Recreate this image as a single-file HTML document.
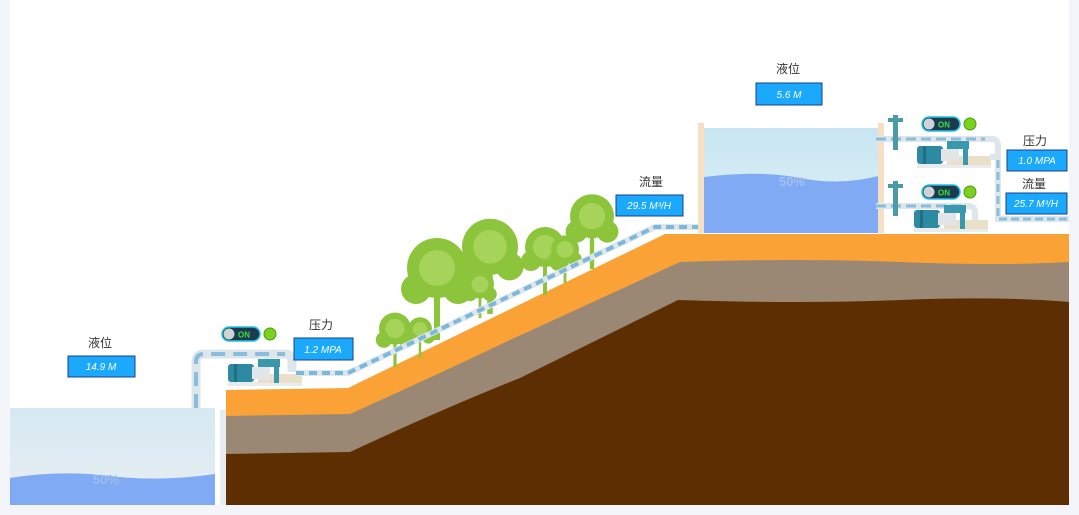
<!DOCTYPE html>
<html><head><meta charset="utf-8"><style>
body{margin:0;width:1079px;height:515px;background:#f4f5fa;overflow:hidden;font-family:"Liberation Sans","Noto Sans CJK SC",sans-serif}
svg{position:absolute;left:0;top:0}
</style></head><body>
<svg width="1079" height="515" viewBox="0 0 1079 515">
<defs>
<linearGradient id="tk" x1="0" y1="0" x2="0" y2="1"><stop offset="0" stop-color="#d5e9f2"/><stop offset="1" stop-color="#e8eef2"/></linearGradient>
<linearGradient id="tk2" x1="0" y1="0" x2="0" y2="1"><stop offset="0" stop-color="#c8e6f2"/><stop offset="1" stop-color="#dfeff6"/></linearGradient>
<g id="tree"><rect x="-2" y="0" width="4" height="40" fill="#8cc43c"/><circle cx="0" cy="-8" r="20" fill="#8cc43c"/><circle cx="-14" cy="6" r="10" fill="#8cc43c"/><circle cx="14" cy="6" r="10" fill="#8cc43c"/><circle cx="0" cy="-8" r="12" fill="#a6d35a"/></g>
<g id="pump"><rect x="0" y="16" width="74" height="4" fill="#e8ecef"/><rect x="30" y="8" width="44" height="9" fill="#eadfc8"/><rect x="0" y="-2" width="26" height="18" rx="3" fill="#2e8aa3"/><rect x="6" y="-2" width="3" height="18" fill="#1f6f85"/><rect x="24" y="1" width="18" height="12" fill="#e2e6e8"/><rect x="30" y="-7" width="22" height="8" fill="#3a98ad"/><rect x="46" y="-5" width="5" height="22" fill="#3a98ad"/></g>
<g id="sw"><rect x="0" y="0" width="38" height="14" rx="7" fill="#1c3b4f" stroke="#22c4e6" stroke-width="1.5"/><circle cx="7" cy="7" r="5.5" fill="#cfd3d6"/><text x="16" y="10.5" font-size="8" fill="#3de03d" font-weight="bold">ON</text><circle cx="48" cy="7" r="6" fill="#7bd11e" stroke="#4a9a10"/></g>
</defs>
<rect x="10" y="0" width="1059" height="505" fill="#fff"/>
<rect x="10" y="408" width="205" height="97" fill="url(#tk)"/>
<path d="M10 478 Q60 470 110 476 T215 474 V505 H10Z" fill="#80aaf3"/>
<text x="106" y="484" font-size="13" font-weight="bold" fill="#9dbcf0" text-anchor="middle">50%</text>
<path d="M226 390 L348 388 L665 234 L1069 234 V505 H226Z" fill="#fba236"/>
<path d="M226 416 L350 414 Q430 378 510 340 L680 262 Q800 258 900 262 T1069 262 V505 H226Z" fill="#9a8874"/>
<path d="M226 454 L350 452 Q440 410 520 378 L678 300 Q800 304 900 300 T1069 302 V505 H226Z" fill="#5e2e03"/>
<rect x="220" y="410" width="6" height="95" fill="#e6ecef"/>
<use href="#tree" transform="translate(395,335) scale(0.8)"/>
<use href="#tree" transform="translate(420,334) scale(0.6)"/>
<use href="#tree" transform="translate(437,280) scale(1.5)"/>
<use href="#tree" transform="translate(490,258) scale(1.4)"/>
<use href="#tree" transform="translate(480,290) scale(0.7)"/>
<use href="#tree" transform="translate(545,255) scale(1)"/>
<use href="#tree" transform="translate(565,255) scale(0.7)"/>
<use href="#tree" transform="translate(592,225) scale(1.1)"/>
<path d="M196 408 V362 Q196 354 204 354 H285 Q292 354 292 362 V372" fill="none" stroke="#dde6ea" stroke-width="9"/>
<path d="M196 408 V362 Q196 354 204 354 H285" fill="none" stroke="#88bedc" stroke-width="4" stroke-dasharray="14 8"/>
<use href="#pump" transform="translate(228,366)"/>
<path d="M296 373 H348 L655 227 H712" fill="none" stroke="#dde6ea" stroke-width="6"/>
<path d="M296 373 H348 L655 227 H712" fill="none" stroke="#7ab8dc" stroke-width="4" stroke-dasharray="8 5"/>
<use href="#sw" transform="translate(222,327)"/>
<rect x="704" y="128" width="174" height="105" fill="url(#tk2)"/>
<path d="M704 177 Q760 170 800 178 T878 176 V233 H704Z" fill="#80aaf3"/>
<rect x="698" y="123" width="6" height="110" fill="#f6dfc2"/>
<rect x="878" y="123" width="6" height="110" fill="#f6dfc2"/>
<text x="792" y="186" font-size="13" font-weight="bold" fill="#a0c0f0" text-anchor="middle">50%</text>
<path d="M876 139 H992 Q998 139 998 146 V158" fill="none" stroke="#dde6ea" stroke-width="6"/>
<path d="M876 139 H985" fill="none" stroke="#88bedc" stroke-width="3" stroke-dasharray="10 5"/>
<path d="M876 206 H968 Q975 206 975 213 V222" fill="none" stroke="#dde6ea" stroke-width="6"/>
<path d="M876 206 H965" fill="none" stroke="#88bedc" stroke-width="3" stroke-dasharray="10 5"/>
<rect x="893" y="115" width="5" height="35" fill="#4a9aa8"/><rect x="888" y="118" width="15" height="4" fill="#4a9aa8"/>
<rect x="893" y="181" width="5" height="35" fill="#4a9aa8"/><rect x="888" y="184" width="15" height="4" fill="#4a9aa8"/>
<use href="#pump" transform="translate(917,148)"/>
<use href="#pump" transform="translate(914,212)"/>
<path d="M990 157 H998 V219 H1069" fill="none" stroke="#dde6ea" stroke-width="6"/>
<path d="M998 160 V219 H1069" fill="none" stroke="#88bedc" stroke-width="3" stroke-dasharray="8 4"/>
<use href="#sw" transform="translate(922,117)"/>
<use href="#sw" transform="translate(922,185)"/>
<rect x="1069" y="0" width="10" height="515" fill="#f4f5fa"/>
<rect x="0" y="505" width="1079" height="10" fill="#f4f5fa"/>
<g font-size="12" fill="#333" text-anchor="middle">
<text x="100" y="347">液位</text><text x="321" y="329">压力</text><text x="651" y="186">流量</text>
<text x="788" y="73">液位</text><text x="1035" y="145">压力</text><text x="1034" y="188">流量</text></g>
<g font-size="10" font-style="italic" fill="#fff" text-anchor="middle">
<rect x="68" y="356" width="67" height="21" fill="#1aa9fd" stroke="#1a3f8a"/><text x="101" y="370">14.9 M</text>
<rect x="294" y="338" width="59" height="22" fill="#1aa9fd" stroke="#1a3f8a"/><text x="323" y="353">1.2 MPA</text>
<rect x="616" y="195" width="67" height="21" fill="#1aa9fd" stroke="#1a3f8a"/><text x="649" y="209">29.5 M³/H</text>
<rect x="756" y="83" width="66" height="22" fill="#1aa9fd" stroke="#1a3f8a"/><text x="789" y="98">5.6 M</text>
<rect x="1007" y="150" width="60" height="21" fill="#1aa9fd" stroke="#1a3f8a"/><text x="1037" y="164">1.0 MPA</text>
<rect x="1006" y="193" width="61" height="21" fill="#1aa9fd" stroke="#1a3f8a"/><text x="1036" y="207">25.7 M³/H</text>
</g>
</svg>
</body></html>
